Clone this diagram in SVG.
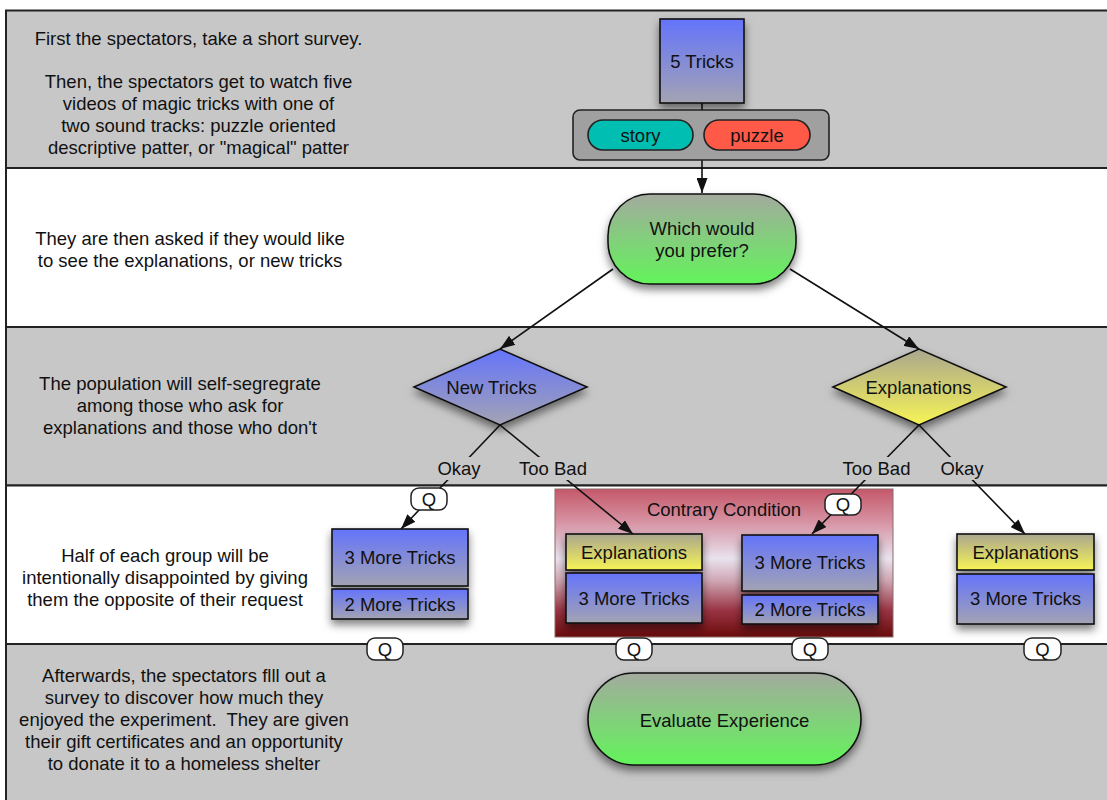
<svg xmlns="http://www.w3.org/2000/svg" width="1107" height="800" viewBox="0 0 1107 800">
<defs>
<style>
text{font-family:"Liberation Sans",Arial,Helvetica,sans-serif;font-size:18.5px;fill:#111;text-anchor:middle}
.lane{stroke:#222;stroke-width:2}
.g{fill:#c7c7c7}
.w{fill:#fff}
.box{stroke:#111;stroke-width:1.6}
.blue{fill:url(#gBlue)}
.yel{fill:url(#gYel)}
.grn{fill:url(#gGrn)}
.sh{filter:url(#sh)}
.conn{stroke:#111;stroke-width:1.6;fill:none}
.arr{marker-end:url(#ah)}
.q{fill:#fff;stroke:#222;stroke-width:1.5}
.lbl{fill:#c7c7c7}
</style>
<linearGradient id="gBlue" x1="0" y1="0" x2="0" y2="1"><stop offset="0" stop-color="#6474fb"/><stop offset="1" stop-color="#a3a3b3"/></linearGradient>
<linearGradient id="gYel" x1="0" y1="0" x2="0" y2="1"><stop offset="0" stop-color="#aaa68e"/><stop offset="1" stop-color="#f7f456"/></linearGradient>
<linearGradient id="gGrn" x1="0" y1="0" x2="0" y2="1"><stop offset="0" stop-color="#a3aa9e"/><stop offset="1" stop-color="#62f45a"/></linearGradient>
<linearGradient id="gRed" x1="0" y1="0" x2="0" y2="1"><stop offset="0" stop-color="#c4586a"/><stop offset="0.22" stop-color="#d692a2"/><stop offset="0.47" stop-color="#e9e3ee"/><stop offset="0.62" stop-color="#cfa6b3"/><stop offset="0.82" stop-color="#9a3444"/><stop offset="1" stop-color="#6a0b0b"/></linearGradient>
<filter id="sh" x="-20%" y="-20%" width="140%" height="170%"><feDropShadow dx="0" dy="5" stdDeviation="4" flood-color="#000" flood-opacity="0.5"/></filter>
<marker id="ah" markerUnits="userSpaceOnUse" markerWidth="15" markerHeight="11" refX="15" refY="5.5" orient="auto"><path d="M0,0 L15,5.5 L0,11 z" fill="#111"/></marker>
</defs>

<g id="lanes">
<rect class="lane g" x="6" y="10.5" width="1120" height="157.5"/>
<rect class="lane w" x="6" y="168" width="1120" height="159"/>
<rect class="lane g" x="6" y="327" width="1120" height="158.5"/>
<rect class="lane w" x="6" y="485.5" width="1120" height="158.5"/>
<rect class="lane g" x="6" y="644" width="1120" height="170"/>
</g>

<g id="lane-texts">
<text x="198.5" y="44.5">First the spectators, take a short survey.</text>
<text x="198.5" y="87.5">Then, the spectators get to watch five</text>
<text x="198.5" y="109.5">videos of magic tricks with one of</text>
<text x="198.5" y="131.5">two sound tracks: puzzle oriented</text>
<text x="198.5" y="153.5">descriptive patter, or "magical" patter</text>
<text x="190" y="244.5">They are then asked if they would like</text>
<text x="190" y="266.5">to see the explanations, or new tricks</text>
<text x="180" y="389.5">The population will self-segregrate</text>
<text x="180" y="411.5">among those who ask for</text>
<text x="180" y="433.5">explanations and those who don't</text>
<text x="165" y="561.5">Half of each group will be</text>
<text x="165" y="583.5">intentionally disappointed by giving</text>
<text x="165" y="605.5">them the opposite of their request</text>
<text x="184" y="681.5">Afterwards, the spectators flll out a</text>
<text x="184" y="703.5">survey to discover how much they</text>
<text x="184" y="726" xml:space="preserve">enjoyed the experiment.  They are given</text>
<text x="184" y="748">their gift certificates and an opportunity</text>
<text x="184" y="770">to donate it to a homeless shelter</text>
</g>

<g id="contrary">
<rect x="555" y="489" width="338" height="148" fill="url(#gRed)" stroke="#8a6a6a" stroke-width="1"/>
<text x="724" y="515.5">Contrary Condition</text>
</g>

<g id="connectors">
<line class="conn" x1="702" y1="103" x2="702" y2="110"/>
<line class="conn arr" x1="702" y1="160" x2="702" y2="193"/>
<line class="conn arr" x1="613" y1="269" x2="500" y2="349"/>
<line class="conn arr" x1="790" y1="269" x2="919" y2="349"/>
<line class="conn arr" x1="500" y1="425" x2="401" y2="529"/>
<line class="conn arr" x1="500" y1="425" x2="633" y2="534"/>
<line class="conn arr" x1="919" y1="425" x2="812" y2="534"/>
<line class="conn arr" x1="919" y1="425" x2="1025" y2="534"/>
<rect class="lbl" x="435" y="457" width="48" height="23"/>
<text x="459" y="475">Okay</text>
<rect class="lbl" x="516" y="457" width="74" height="23"/>
<text x="553" y="475">Too Bad</text>
<rect class="lbl" x="839" y="457" width="75" height="23"/>
<text x="876.5" y="475">Too Bad</text>
<rect class="lbl" x="938" y="457" width="48" height="23"/>
<text x="962" y="475">Okay</text>
<rect class="q" x="411" y="488" width="36" height="22" rx="8"/>
<text x="429" y="505.5">Q</text>
<rect class="q" x="825" y="494" width="36" height="21" rx="8"/>
<text x="843" y="511">Q</text>
</g>

<g id="n-5tricks">
<rect class="box blue sh" x="660" y="19" width="84" height="84"/>
<text x="702" y="67.5">5 Tricks</text>
</g>
<g id="n-soundtracks">
<rect x="573" y="110" width="256" height="50" rx="7" fill="#a0a0a0" stroke="#222" stroke-width="1.6"/>
</g>
<g id="n-story">
<rect x="588" y="120" width="105" height="30" rx="15" fill="#00bfb2" stroke="#222" stroke-width="1.6"/>
<text x="640.5" y="141.5">story</text>
</g>
<g id="n-puzzle">
<rect x="704" y="120" width="106" height="30" rx="15" fill="#ff5a48" stroke="#222" stroke-width="1.6"/>
<text x="757" y="141.5">puzzle</text>
</g>
<g id="n-prefer">
<rect class="box grn sh" x="608" y="194" width="188" height="90" rx="42"/>
<text x="702" y="234.5">Which would</text>
<text x="702" y="256.5">you prefer?</text>
</g>
<g id="n-newtricks">
<polygon class="box blue sh" points="414,387 500,349 587,387 500,425"/>
<text x="491.5" y="393.5">New Tricks</text>
</g>
<g id="n-explanations">
<polygon class="box yel sh" points="833,387 919,349 1006,387 919,425"/>
<text x="918.5" y="393.5">Explanations</text>
</g>

<g id="n-left-group">
<rect class="box blue sh" x="332" y="529" width="136" height="57"/>
<text x="400" y="564">3 More Tricks</text>
<rect class="box blue sh" x="332" y="589" width="136" height="30"/>
<text x="400" y="610.5">2 More Tricks</text>
</g>
<g id="n-contrary-expl">
<rect class="box yel sh" x="566" y="534" width="136" height="36"/>
<text x="634" y="559">Explanations</text>
<rect class="box blue sh" x="566" y="573" width="136" height="50"/>
<text x="634" y="605">3 More Tricks</text>
</g>
<g id="n-contrary-tricks">
<rect class="box blue sh" x="742" y="535" width="136" height="56"/>
<text x="810" y="569">3 More Tricks</text>
<rect class="box blue sh" x="742" y="595" width="136" height="29"/>
<text x="810" y="615.5">2 More Tricks</text>
</g>
<g id="n-right-group">
<rect class="box yel sh" x="957" y="534" width="137" height="36"/>
<text x="1025.5" y="558.5">Explanations</text>
<rect class="box blue sh" x="957" y="574" width="137" height="50"/>
<text x="1025.5" y="605">3 More Tricks</text>
</g>

<g id="q-labels">
<rect class="q" x="367" y="638" width="36" height="22" rx="8"/>
<text x="385" y="655.5">Q</text>
<rect class="q" x="616" y="638" width="36" height="22" rx="8"/>
<text x="634" y="655.5">Q</text>
<rect class="q" x="792" y="638" width="36" height="22" rx="8"/>
<text x="810" y="655.5">Q</text>
<rect class="q" x="1024" y="638" width="37" height="22" rx="8"/>
<text x="1042.5" y="655.5">Q</text>
</g>

<g id="n-evaluate">
<rect class="box grn sh" x="588" y="673" width="273" height="92" rx="46"/>
<text x="724.5" y="726.5">Evaluate Experience</text>
</g>
</svg>
